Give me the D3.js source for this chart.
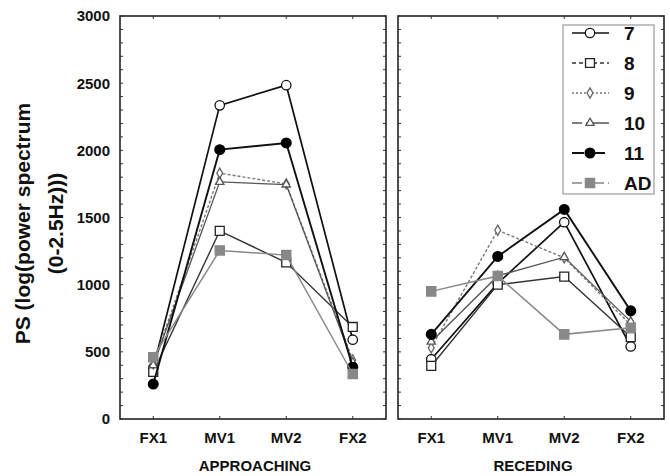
<!DOCTYPE html>
<html>
<head>
<meta charset="utf-8">
<script src="https://cdn.jsdelivr.net/npm/d3@7"></script>
<style>
  body { margin: 0; background: #fff; }
  svg { display: block; font-family: "Liberation Sans", Arial, sans-serif; }
</style>
</head>
<body>
<div id="chart"></div>
<script>
(function () {
  "use strict";

  const CATEGORIES = ["FX1", "MV1", "MV2", "FX2"];
  const PANELS = ["APPROACHING", "RECEDING"];
  const SERIES_NAMES = ["7", "8", "9", "10", "11", "AD"];
  const Y_TICKS = [0, 500, 1000, 1500, 2000, 2500, 3000];

  // values per series: [approaching, receding]
  const S7 = [[380, 2335, 2485, 590], [445, 1010, 1465, 540]];
  const S8 = [[350, 1400, 1165, 685], [395, 1000, 1060, 610]];
  const S9 = [[410, 1830, 1750, 440], [530, 1405, 1200, 700]];
  const S10 = [[400, 1765, 1745, 420], [575, 1065, 1205, 725]];
  const S11 = [[260, 2005, 2055, 385], [630, 1210, 1560, 805]];
  const SAD = [[460, 1255, 1220, 335], [950, 1065, 630, 680]];

  const SERIES = [S7, S8, S9, S10, S11, SAD];

  // dash = in plot, ldash = legend sample
  const STYLES = {
    "7":  { stroke: "#111", width: 1.7, dash: null,  ldash: null,    symbol: d3.symbolCircle,   size: 70, fill: "#fff", mstroke: "#111" },
    "8":  { stroke: "#333", width: 1.4, dash: null,  ldash: "4,3",   symbol: d3.symbolSquare,   size: 80, fill: "#fff", mstroke: "#222" },
    "9":  { stroke: "#777", width: 1.4, dash: "3,2", ldash: "2,2",   symbol: d3.symbolDiamond,  size: 30, fill: "#fff", mstroke: "#666" },
    "10": { stroke: "#555", width: 1.3, dash: null,  ldash: "10,4,40", symbol: d3.symbolTriangle, size: 30, fill: "#fff", mstroke: "#555" },
    "11": { stroke: "#111", width: 1.9, dash: null,  ldash: "12,9",  symbol: d3.symbolCircle,   size: 75, fill: "#000", mstroke: "#000" },
    "AD": { stroke: "#888", width: 1.5, dash: null,  ldash: "10,4,4,4", symbol: d3.symbolSquare, size: 85, fill: "#888", mstroke: "#888" }
  };

  const W = 670, H = 476;
  const TOP = 16, BOTTOM = 419;
  const PANEL_X = [[120, 386], [398, 664]];

  const svg = d3.select("#chart").append("svg")
    .attr("width", W).attr("height", H);

  const y = d3.scaleLinear().domain([0, 3000]).range([BOTTOM, TOP]);

  // y axis title
  const yTitle = svg.append("text")
    .attr("transform", `translate(0,${(TOP + BOTTOM) / 2 + 6}) rotate(-90)`)
    .attr("text-anchor", "middle")
    .attr("font-size", "21px")
    .attr("font-weight", "bold")
    .attr("fill", "#111");
  yTitle.append("tspan").attr("x", 0).attr("y", 30).text("PS (log(power spectrum");
  yTitle.append("tspan").attr("x", 0).attr("y", 63).text("(0-2.5Hz)))");

  // y tick labels
  svg.append("g").selectAll("text")
    .data(Y_TICKS).enter().append("text")
    .attr("x", 110)
    .attr("y", d => y(d))
    .attr("dy", "0.36em")
    .attr("text-anchor", "end")
    .attr("font-size", "15px")
    .attr("font-weight", "bold")
    .attr("fill", "#111")
    .text(d => d);

  const minor = d3.range(0, 3001, 100);

  PANELS.forEach((title, p) => {
    const [x0, x1] = PANEL_X[p];
    const x = d3.scalePoint().domain(CATEGORIES).range([x0, x1]).padding(0.5);
    const g = svg.append("g");

    // frame
    g.append("rect")
      .attr("x", x0).attr("y", TOP)
      .attr("width", x1 - x0).attr("height", BOTTOM - TOP)
      .attr("fill", "none").attr("stroke", "#222").attr("stroke-width", 1.6);

    // inward minor ticks on both sides
    g.selectAll(".tl").data(minor).enter().append("line")
      .attr("x1", x0).attr("x2", x0 + 3)
      .attr("y1", d => y(d)).attr("y2", d => y(d))
      .attr("stroke", "#333").attr("stroke-width", 1);
    g.selectAll(".tr").data(minor).enter().append("line")
      .attr("x1", x1).attr("x2", x1 - 3)
      .attr("y1", d => y(d)).attr("y2", d => y(d))
      .attr("stroke", "#333").attr("stroke-width", 1);

    // category ticks top and bottom
    CATEGORIES.forEach(c => {
      g.append("line").attr("x1", x(c)).attr("x2", x(c))
        .attr("y1", TOP).attr("y2", TOP + 3).attr("stroke", "#333");
      g.append("line").attr("x1", x(c)).attr("x2", x(c))
        .attr("y1", BOTTOM).attr("y2", BOTTOM - 3).attr("stroke", "#333");
    });

    // x tick labels
    g.selectAll(".xl").data(CATEGORIES).enter().append("text")
      .attr("x", d => x(d))
      .attr("y", 443)
      .attr("text-anchor", "middle")
      .attr("font-size", "15px")
      .attr("font-weight", "bold")
      .attr("fill", "#111")
      .text(d => d);

    // panel title
    g.append("text")
      .attr("x", (x0 + x1) / 2 + 2)
      .attr("y", 471)
      .attr("text-anchor", "middle")
      .attr("font-size", "15px")
      .attr("font-weight", "bold")
      .attr("fill", "#111")
      .text(title);

    const line = d3.line().x((d, i) => x(CATEGORIES[i])).y(d => y(d));

    SERIES.forEach((s, k) => {
      const st = STYLES[SERIES_NAMES[k]];
      const vals = s[p];
      g.append("path")
        .attr("d", line(vals))
        .attr("fill", "none")
        .attr("stroke", st.stroke)
        .attr("stroke-width", st.width)
        .attr("stroke-dasharray", st.dash);
      g.selectAll(null).data(vals).enter().append("path")
        .attr("transform", (d, i) => `translate(${x(CATEGORIES[i])},${y(d)})`)
        .attr("d", d3.symbol().type(st.symbol).size(st.size))
        .attr("fill", st.fill)
        .attr("stroke", st.mstroke)
        .attr("stroke-width", 1.3);
    });
  });

  // legend
  const lg = svg.append("g");
  lg.append("rect")
    .attr("x", 563).attr("y", 25).attr("width", 91).attr("height", 169)
    .attr("fill", "#fff").attr("stroke", "#999").attr("stroke-width", 1.2);

  SERIES_NAMES.forEach((name, i) => {
    const st = STYLES[name];
    const cy = 33 + i * 30;
    lg.append("line")
      .attr("x1", 572).attr("x2", 609).attr("y1", cy).attr("y2", cy)
      .attr("stroke", st.stroke).attr("stroke-width", st.width)
      .attr("stroke-dasharray", st.ldash);
    lg.append("path")
      .attr("transform", `translate(590,${cy})`)
      .attr("d", d3.symbol().type(st.symbol).size(st.size))
      .attr("fill", st.fill).attr("stroke", st.mstroke).attr("stroke-width", 1.3);
    lg.append("text")
      .attr("x", 624).attr("y", cy).attr("dy", "0.36em")
      .attr("font-size", "19px").attr("font-weight", "bold").attr("fill", "#111")
      .text(name);
  });
})();
</script>
</body>
</html>
